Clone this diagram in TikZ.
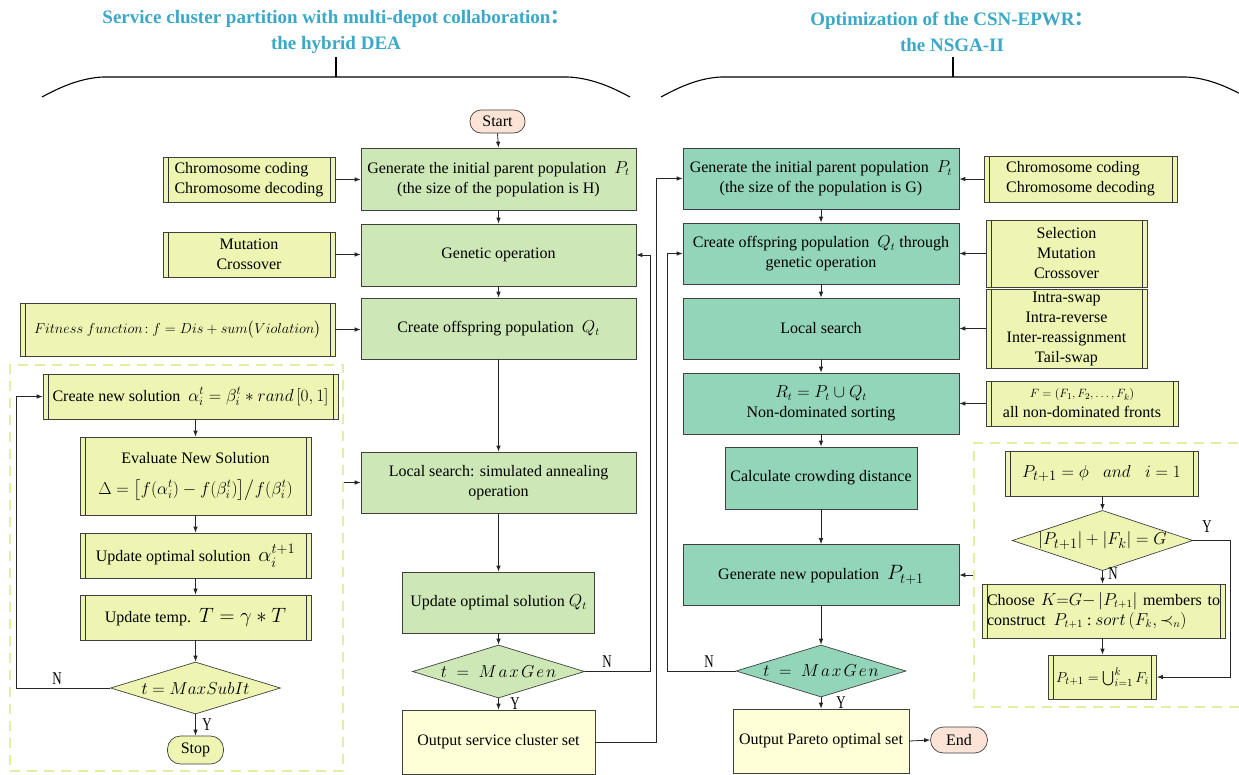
\documentclass[tikz,border=0pt]{standalone}
\usepackage{amsmath}
\usepackage{fontspec}
\setmainfont{Liberation Serif}
\newfontfamily\cjk{Noto Sans CJK SC}
\usepackage{graphicx}
\usetikzlibrary{shapes.geometric,arrows.meta,calc}
\definecolor{lg}{HTML}{CDE8B6}
\definecolor{tg}{HTML}{93D5B8}
\definecolor{sy}{HTML}{EEF5B3}
\definecolor{oy}{HTML}{FFFFD7}
\definecolor{pk}{HTML}{FBE4D5}
\definecolor{dy}{HTML}{E3EEA5}
\definecolor{tc}{HTML}{3AA8C8}
\newcommand\myfs{\fontsize{16}{20}\selectfont}
\newcommand\narrow[1]{\scalebox{0.72}[1]{#1}}
\newcommand\mg{M\mkern2mu a\mkern2mu x\mkern2mu G\mkern2mu e\mkern2mu n}
\begin{document}
\begin{tikzpicture}[x=1pt,y=-1pt,font=\myfs,
  every node/.style={inner sep=0pt,align=center},
  bx/.style={draw=black!75,line width=0.7pt},
  lbox/.style={bx,fill=lg},
  tbox/.style={bx,fill=tg},
  obox/.style={bx,fill=oy},
  sbox/.style={bx,fill=sy,path picture={
     \draw[line width=0.7pt,black!80] ([xshift=5pt]path picture bounding box.north west) -- ([xshift=5pt]path picture bounding box.south west)
       ([xshift=-5pt]path picture bounding box.north east) -- ([xshift=-5pt]path picture bounding box.south east);}},
  term/.style={bx,fill=pk,rounded corners=11pt},
  dia/.style={bx,diamond,aspect=3},
  dbox/.style={draw=dy,dash pattern=on 10pt off 7pt,line width=2pt},
  arr/.style={-{Latex[length=6pt,width=4.5pt]},line width=0.8pt,draw=black!85},
  lab/.style={font=\fontsize{18}{18}\selectfont},
  ttl/.style={font=\fontsize{19}{26}\selectfont\bfseries,text=tc},
  brace/.style={line width=1.1pt}]
\useasboundingbox (0,0) rectangle (1239,774);
\clip (0,0) rectangle (1239,774);
\fill[white] (0,0) rectangle (1239,774);

% titles and braces
\node[ttl] (t1) at (336,32) {Service cluster partition with multi-depot collaboration{\cjk ：}\\the hybrid DEA};
\node[ttl] (t2) at (952,32) {Optimization of the CSN-EPWR{\cjk ：}\\the NSGA-II};
\draw[brace] (42,97) .. controls (62,86) and (82,78) .. (103,77) -- (568,77) .. controls (590,78) and (610,86) .. (630,97);
\draw[brace] (336,57) -- (336,77);
\draw[brace] (661,97) .. controls (681,86) and (700,78) .. (721,77) -- (1186,77) .. controls (1207,78) and (1226,86) .. (1246,97);
\draw[brace] (953,57) -- (953,77);

% dashed groups
\node[dbox,minimum width=333,minimum height=406] (dbL) at (176.5,568) {};
\node[dbox,minimum width=272,minimum height=264] (dbR) at (1110,575) {};

% left main column
\node[term,minimum width=55,minimum height=23] (start) at (497.5,121.5) {Start};
\node[lbox,minimum width=275,minimum height=62] (gen1) at (498.5,179) {Generate the initial parent population\ \ $P_t$\\(the size of the population is H)};
\node[lbox,minimum width=275,minimum height=62] (go1) at (498.5,255) {Genetic operation};
\node[lbox,minimum width=275,minimum height=61] (off1) at (498.5,328.5) {Create offspring population\ \ $Q_t$};
\node[lbox,minimum width=275,minimum height=61] (ls1) at (498.5,482.5) {Local search: simulated annealing\\operation};
\node[lbox,minimum width=192,minimum height=61] (up1) at (498.5,602.5) {Update optimal solution\ $Q_t$};
\node[dia,fill=lg,minimum width=172,minimum height=53] (d1) at (498.5,671.5) {\fontsize{17}{17}\selectfont$t\; = \;\mg$};
\node[obox,minimum width=193,minimum height=64] (out1) at (498.5,742) {Output service cluster set};

% left side boxes
\node[sbox,minimum width=172,minimum height=45,align=left] (cc1) at (249,179.5) {Chromosome coding\\Chromosome decoding};
\node[sbox,minimum width=172,minimum height=45] (mc1) at (249,254.5) {Mutation\\Crossover};
\node[sbox,minimum width=315,minimum height=53] (ff) at (177.5,329.5) {\fontsize{14.5}{16}\selectfont$Fitness\ function\!: f = Dis + sum\big(Violation\big)$};

% simulated annealing detail
\node[sbox,minimum width=295,minimum height=45] (cns) at (190.5,396.5) {Create new solution\ \ {\fontsize{18}{18}\selectfont$\alpha_i^t = \beta_i^t * rand\,[0,1]$}};
\node[sbox,minimum width=231,minimum height=78] (ev) at (195.5,476) {Evaluate New Solution\\[11pt]{\fontsize{18}{20}\selectfont$\Delta = \big[f(\alpha_i^t) - f(\beta_i^t)\big]\big/ f(\beta_i^t)$}};
\node[sbox,minimum width=231,minimum height=45] (uo) at (195.5,555.5) {Update optimal solution\ \ {\fontsize{20}{20}\selectfont$\alpha_i^{t+1}$}};
\node[sbox,minimum width=231,minimum height=45] (ut) at (195.5,617.5) {Update temp.\ \ {\fontsize{22}{22}\selectfont$T = \gamma * T$}};
\node[dia,fill=sy,minimum width=170,minimum height=52] (ds) at (195.5,688) {\fontsize{19}{19}\selectfont$t = MaxSubIt$};
\node[term,fill=sy,minimum width=56,minimum height=28,rounded corners=13pt] (stop) at (195.5,750) {Stop};

% right main column
\node[tbox,minimum width=276,minimum height=61] (gen2) at (821,178.5) {Generate the initial parent population\ \ $P_t$\\(the size of the population is G)};
\node[tbox,minimum width=276,minimum height=61] (co2) at (821,253.5) {Create offspring population\ \ $Q_t$ through\\genetic operation};
\node[tbox,minimum width=276,minimum height=61] (ls2) at (821,328.5) {Local search};
\node[tbox,minimum width=276,minimum height=61] (rt) at (821,403.5) {$R_t = P_t \cup Q_t$\\Non-dominated sorting};
\node[tbox,minimum width=192,minimum height=62] (cd) at (821,478) {Calculate crowding distance};
\node[tbox,minimum width=276,minimum height=61] (gnp) at (821,575) {Generate new population\ \ {\fontsize{22}{22}\selectfont$P_{t+1}$}};
\node[dia,fill=tg,minimum width=170,minimum height=52] (d2) at (821,671) {\fontsize{17}{17}\selectfont$t\; = \;\mg$};
\node[obox,minimum width=176,minimum height=64] (out2) at (821,741) {Output Pareto optimal set};
\node[term,minimum width=57,minimum height=26,rounded corners=13pt] (end) at (959,740) {End};

% right side boxes
\node[sbox,minimum width=193,minimum height=46,align=left] (cc2) at (1080.5,179) {Chromosome coding\\Chromosome decoding};
\node[sbox,minimum width=161,minimum height=67] (smc) at (1066.5,253.5) {Selection\\Mutation\\Crossover};
\node[sbox,minimum width=161,minimum height=79] (isw) at (1066.5,328.5) {Intra-swap\\Intra-reverse\\Inter-reassignment\\Tail-swap};
\node[sbox,minimum width=192,minimum height=45] (fr) at (1082,403.5) {{\fontsize{13}{15}\selectfont$F = (F_1, F_2, \dots, F_k)$}\\all non-dominated fronts};

% right dashed detail
\node[sbox,minimum width=193,minimum height=45] (phi) at (1101.5,473.5) {\fontsize{19}{20}\selectfont$P_{t+1} = \phi\ \ \ and\ \ \ i = 1$};
\node[dia,fill=sy,minimum width=171,minimum height=53] (d3) at (1102.5,540.5) {\fontsize{19}{19}\selectfont$\left|P_{t+1}\right| + \left|F_k\right| = G$};
\node[sbox,minimum width=243,minimum height=54,text width=233,align=justify] (ch) at (1103.5,611) {Choose $K{=}G{-}\left|P_{t+1}\right|$ members to\linebreak construct\ \ $P_{t+1}$ :\ $sort\left(F_k,\prec_n\right)$};
\node[sbox,minimum width=108,minimum height=44] (un) at (1102.5,677) {\fontsize{15}{15}\selectfont$P_{t+1} = \bigcup_{i=1}^{k} F_i$};

% left connectors
\draw[arr] (start.south) -- (gen1.north);
\draw[arr] (gen1.south) -- (go1.north);
\draw[arr] (go1.south) -- (off1.north);
\draw[arr] (off1.south) -- (ls1.north);
\draw[arr] (ls1.south) -- (up1.north);
\draw[arr] (up1.south) -- (d1.north);
\draw[arr] (d1.south) -- (out1.north);
\draw[arr] (d1.east) -| ($(go1.east)+(14,0)$) -- (go1.east);
\draw[arr] (out1.east) -| ($(gen2.west)+(-26,0)$) -- (gen2.west);
\draw[arr] (cc1.east) -- (cc1.east -| gen1.west);
\draw[arr] (mc1.east) -- (mc1.east -| go1.west);
\draw[arr] (ff.east) -- (ff.east -| off1.west);
\draw[arr] (dbL.east |- ls1.west) -- (ls1.west);
\draw[arr] (cns.south -| ev.north) -- (ev.north);
\draw[arr] (ev.south) -- (uo.north);
\draw[arr] (uo.south) -- (ut.north);
\draw[arr] (ut.south) -- (ds.north);
\draw[arr] (ds.south) -- (stop.north);
\draw[arr] (ds.west) -| ($(cns.west)+(-26,0)$) -- (cns.west);

% right connectors
\draw[arr] (gen2.south) -- (co2.north);
\draw[arr] (co2.south) -- (ls2.north);
\draw[arr] (ls2.south) -- (rt.north);
\draw[arr] (rt.south) -- (cd.north);
\draw[arr] (cd.south) -- (gnp.north);
\draw[arr] (gnp.south) -- (d2.north);
\draw[arr] (d2.south) -- (out2.north);
\draw[arr] (out2.east) -- (end.west);
\draw[arr] (d2.west) -| ($(co2.west)+(-15,0)$) -- (co2.west);
\draw[arr] (cc2.west) -- (cc2.west -| gen2.east);
\draw[arr] (smc.west) -- (smc.west -| co2.east);
\draw[arr] (isw.west) -- (isw.west -| ls2.east);
\draw[arr] (fr.west) -- (fr.west -| rt.east);
\draw[arr] (dbR.west) -- (gnp.east);
\draw[arr] (phi.south -| d3.north) -- (d3.north);
\draw[arr] (d3.south) -- (ch.north -| d3.south);
\draw[arr] (ch.south -| d3.south) -- (un.north);
\draw[arr] (d3.east) -| ($(un.east)+(74,0)$) -- (un.east);

% branch labels
\node[lab] at (607,662) {\narrow{N}};
\node[lab] at (515,704) {\narrow{Y}};
\node[lab] at (57,679) {\narrow{N}};
\node[lab] at (207,725) {\narrow{Y}};
\node[lab] at (709,662) {\narrow{N}};
\node[lab] at (841,703) {\narrow{Y}};
\node[lab] at (1207,527) {\narrow{Y}};
\node[lab] at (1113,574) {\narrow{N}};
\end{tikzpicture}
\end{document}
